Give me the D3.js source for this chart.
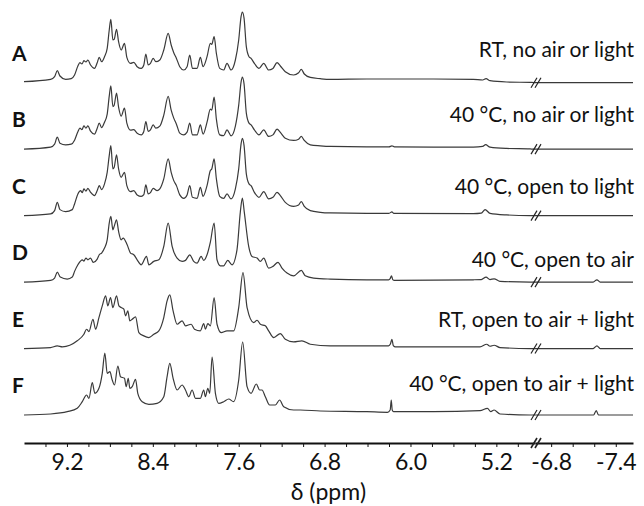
<!DOCTYPE html>
<html>
<head>
<meta charset="utf-8">
<script src="https://cdn.jsdelivr.net/npm/d3@7"></script>
<style>
  body { margin: 0; background: #fff; }
  svg { display: block; }
  text { font-family: Lato, "Open Sans", sans-serif; fill: #111; }
</style>
</head>
<body>
<svg id="chart" width="644" height="506"></svg>
<script>
// Row letters and the sample condition of each 1H NMR spectrum
const rowLabels = ["A", "B", "C", "D", "E", "F"];
const conditions = [
  "RT, no air or light",
  "40 °C, no air or light",
  "40 °C, open to light",
  "40 °C, open to air",
  "RT, open to air + light",
  "40 °C, open to air + light"
];

// Chemical-shift axis (two windows, split by an axis break)
const tickLabelsLeft = [9.2, 8.4, 7.6, 6.8, 6.0, 5.2];
const tickLabelsRight = [-6.8, -7.4];
const ticksLeft = [9.4, 9.2, 9.0, 8.8, 8.6, 8.4, 8.2, 8.0, 7.8, 7.6, 7.4, 7.2, 7.0, 6.8, 6.6, 6.4, 6.2, 6.0, 5.8, 5.6, 5.4, 5.2, 5.0];
const ticksRight = [-6.8, -7.0, -7.2, -7.4];

// Spectra: [δ (ppm), intensity (a.u.)]
const spectrumA = [
  [9.600, 1.0], [9.352, 3.3], [9.315, 6], [9.290, 12], [9.265, 6.7], [9.212, 3.3], [9.160, 4], [9.129, 7.7],
  [9.098, 16.7], [9.079, 20], [9.060, 18.7], [9.042, 22], [9.023, 20.7], [9.005, 22.7], [8.980, 17.7],
  [8.943, 14.3], [8.918, 20], [8.899, 25.3], [8.877, 21], [8.850, 26], [8.825, 34.3], [8.806, 52.7],
  [8.791, 63.3], [8.772, 42.7], [8.760, 43.3], [8.738, 53.3], [8.719, 41], [8.695, 32.7], [8.664, 39.3],
  [8.642, 25.3], [8.608, 19.3], [8.577, 20.3], [8.546, 16], [8.508, 14.3], [8.484, 17.7], [8.465, 28.7],
  [8.443, 17.7], [8.422, 19.3], [8.397, 24.3], [8.372, 21], [8.335, 22.7], [8.298, 32.7], [8.257, 49.3],
  [8.229, 37.7], [8.205, 30], [8.180, 24.3], [8.149, 16], [8.112, 12.7], [8.081, 16], [8.056, 27.7],
  [8.031, 14.3], [7.988, 14.3], [7.957, 25.3], [7.932, 16], [7.895, 26], [7.864, 39.3], [7.851, 38.3],
  [7.829, 46], [7.808, 29.3], [7.777, 14.3], [7.740, 12.7], [7.709, 19.3], [7.671, 12.7], [7.631, 22.7],
  [7.600, 42.7], [7.578, 66], [7.566, 70.7], [7.550, 64.3], [7.529, 36], [7.504, 26], [7.485, 24.3],
  [7.454, 19.3], [7.411, 14.3], [7.367, 19.3], [7.321, 12.7], [7.281, 14.3], [7.243, 20], [7.212, 16.7],
  [7.166, 11], [7.088, 7.7], [7.042, 10], [7.017, 13.3], [6.989, 8.7], [6.933, 5.3], [6.840, 4],
  [6.747, 3.3], [6.406, 3.7], [5.786, 3.7], [5.414, 3.3], [5.327, 2.7], [5.296, 4], [5.259, 2],
  [5.104, 0.7], [4.886, 0.3], [4.850, 0.2],
  [-6.650, 0], [-7.560, 0]
];
const spectrumB = [
  [9.600, 0], [9.352, 2], [9.315, 5], [9.290, 12], [9.265, 6], [9.212, 4.3], [9.160, 5], [9.129, 9],
  [9.098, 17.5], [9.079, 21], [9.060, 19.5], [9.042, 23.3], [9.023, 21], [9.005, 23.3], [8.980, 18],
  [8.943, 15], [8.918, 21], [8.899, 26], [8.877, 21.5], [8.850, 27], [8.825, 35], [8.806, 53],
  [8.791, 63.3], [8.772, 42.6], [8.760, 44], [8.738, 56], [8.719, 42], [8.695, 33], [8.664, 41],
  [8.642, 26], [8.608, 19], [8.577, 19.5], [8.546, 16], [8.508, 14.3], [8.484, 17.7], [8.465, 27.6],
  [8.443, 17.7], [8.422, 19.3], [8.397, 24.3], [8.372, 21], [8.335, 23], [8.298, 34], [8.257, 52.7],
  [8.229, 39], [8.205, 31], [8.180, 25], [8.149, 16], [8.112, 14.3], [8.081, 17], [8.056, 26],
  [8.031, 14.3], [7.988, 14.3], [7.957, 24.3], [7.932, 15], [7.895, 27], [7.864, 40], [7.851, 39],
  [7.829, 52], [7.808, 30], [7.777, 14.3], [7.740, 13.5], [7.709, 19.3], [7.671, 13.3], [7.631, 23],
  [7.600, 44], [7.578, 67], [7.566, 72], [7.550, 65], [7.529, 36], [7.504, 26], [7.485, 24.3],
  [7.454, 19.3], [7.411, 14.3], [7.367, 19.3], [7.321, 12.7], [7.281, 14.3], [7.243, 20], [7.212, 16.7],
  [7.166, 11], [7.088, 8.7], [7.042, 10], [7.017, 12.7], [6.989, 8.7], [6.933, 4.3], [6.840, 3.3],
  [6.747, 2.7], [6.406, 2.3], [6.200, 2.3], [6.173, 3.3], [6.150, 2.3], [5.786, 2], [5.414, 2],
  [5.327, 2.7], [5.300, 4.5], [5.259, 2], [5.104, 0.7], [4.886, 0.2], [4.850, 0],
  [-6.650, 0], [-7.560, 0]
];
const spectrumC = [
  [9.600, 0], [9.352, 1.7], [9.315, 5], [9.290, 13.3], [9.265, 6], [9.212, 4], [9.150, 6], [9.129, 11.7],
  [9.098, 21.7], [9.073, 25], [9.057, 23], [9.042, 26.7], [9.023, 24.5], [9.005, 27.3], [8.980, 23.3],
  [8.943, 20], [8.918, 25], [8.899, 30], [8.877, 26], [8.850, 31.7], [8.825, 43.3], [8.806, 60],
  [8.791, 70], [8.772, 46.7], [8.760, 48.3], [8.738, 60.7], [8.719, 46.7], [8.695, 38.3], [8.664, 43.3],
  [8.642, 30], [8.608, 24], [8.577, 25], [8.546, 20.7], [8.508, 19.3], [8.484, 21], [8.465, 30.7],
  [8.443, 21.7], [8.422, 23], [8.397, 27.3], [8.360, 25], [8.335, 26.7], [8.298, 36.7], [8.257, 56.7],
  [8.229, 43.3], [8.205, 35], [8.180, 30], [8.149, 20.7], [8.112, 17.3], [8.081, 20.7], [8.056, 30],
  [8.031, 18.3], [7.988, 17.3], [7.957, 28.3], [7.932, 19.3], [7.895, 30], [7.864, 45], [7.851, 46.7],
  [7.829, 56.7], [7.808, 36.7], [7.777, 19.3], [7.740, 17.3], [7.709, 21.7], [7.671, 16.7], [7.631, 26.7],
  [7.600, 46.7], [7.578, 71.7], [7.566, 77.3], [7.550, 70], [7.529, 41.7], [7.504, 31.7], [7.485, 30],
  [7.454, 23.3], [7.411, 18.3], [7.367, 24], [7.321, 16.7], [7.281, 18.3], [7.243, 23.3], [7.212, 20],
  [7.166, 13.3], [7.088, 9.3], [7.042, 10.7], [7.017, 14], [6.989, 9.3], [6.933, 5], [6.840, 3.3],
  [6.747, 2.7], [6.406, 2.3], [6.200, 2.3], [6.173, 3.7], [6.155, 2.2], [5.414, 2], [5.340, 2.5],
  [5.305, 6], [5.259, 2.3], [5.104, 0.7], [4.886, 0], [4.850, 0],
  [-6.650, 0], [-7.560, 0]
];
const spectrumD = [
  [9.600, 0], [9.352, 1.7], [9.315, 4], [9.290, 10], [9.262, 5], [9.197, 3], [9.150, 5], [9.129, 10.7],
  [9.098, 17.3], [9.057, 22.3], [9.042, 21], [9.023, 24], [9.005, 22.3], [8.980, 24], [8.955, 19.7],
  [8.918, 23], [8.899, 27.3], [8.877, 29], [8.850, 34], [8.825, 42.3], [8.806, 59], [8.791, 65.7],
  [8.772, 52.3], [8.760, 55.7], [8.738, 62.3], [8.719, 50.7], [8.695, 42.3], [8.676, 44], [8.639, 37.3],
  [8.608, 29], [8.577, 27.3], [8.546, 22.3], [8.508, 17.3], [8.459, 25.7], [8.437, 17.3], [8.391, 20.7],
  [8.344, 22.3], [8.298, 35.7], [8.257, 59], [8.220, 35.7], [8.174, 24], [8.127, 20.7], [8.096, 21.7],
  [8.056, 27.3], [8.019, 20.7], [7.988, 19], [7.950, 25.7], [7.926, 21.7], [7.895, 27.3], [7.864, 40],
  [7.829, 59], [7.802, 22.3], [7.771, 16.3], [7.740, 16.3], [7.702, 21.7], [7.662, 17.3], [7.616, 32.3],
  [7.585, 70], [7.566, 84], [7.548, 70], [7.507, 35.7], [7.476, 25.7], [7.429, 24], [7.398, 20.7],
  [7.367, 24], [7.321, 14], [7.281, 15.7], [7.234, 19.7], [7.197, 14], [7.150, 9], [7.088, 6.3],
  [7.017, 11.7], [6.980, 6.3], [6.902, 4], [6.747, 3], [6.406, 2.3], [6.204, 2.3], [6.189, 3.5],
  [6.177, 6.3], [6.165, 2.5], [6.150, 1.7], [5.414, 2.3], [5.340, 2.5], [5.296, 5], [5.259, 2.5],
  [5.221, 3.3], [5.166, 0.7], [4.886, 0], [4.850, 0],
  [-6.650, 0], [-7.190, 0], [-7.225, 2.3], [-7.255, 0], [-7.560, 0]
];
const spectrumE = [
  [9.600, 0], [9.352, 1], [9.290, 2.7], [9.243, 1.7], [9.104, 7.7], [9.042, 14.3], [9.017, 19.3],
  [8.995, 17], [8.958, 29.3], [8.933, 19.3], [8.902, 31], [8.871, 42.7], [8.840, 52.7], [8.819, 42.7],
  [8.794, 51], [8.772, 41], [8.738, 52.7], [8.716, 42.7], [8.695, 41], [8.670, 39.3], [8.654, 32.7],
  [8.633, 37.7], [8.614, 27.7], [8.592, 29.3], [8.561, 31.7], [8.530, 16], [8.484, 12.7], [8.437, 11],
  [8.391, 14.3], [8.344, 17.7], [8.298, 31], [8.267, 47.7], [8.242, 53.7], [8.211, 37.7], [8.174, 24.3],
  [8.127, 27.7], [8.096, 22.7], [8.043, 24.3], [8.012, 19.3], [7.957, 17.7], [7.926, 25], [7.910, 19.3],
  [7.888, 25], [7.864, 22.7], [7.829, 51], [7.802, 24.3], [7.764, 16], [7.709, 17.7], [7.647, 17.7],
  [7.600, 41], [7.560, 76], [7.522, 41], [7.460, 26], [7.429, 28.3], [7.398, 24.3], [7.352, 22.7],
  [7.321, 17.7], [7.274, 11], [7.212, 15], [7.166, 9.3], [7.088, 6.7], [7.011, 7.7], [6.933, 4.3],
  [6.747, 2.7], [6.406, 2.7], [6.204, 2.7], [6.187, 4.5], [6.173, 9.3], [6.160, 3], [6.140, 1.7],
  [5.352, 1.7], [5.290, 4.3], [5.259, 2.3], [5.221, 3.3], [5.166, 1], [4.886, 0], [4.850, 0],
  [-6.650, 0], [-7.190, 0], [-7.225, 2.7], [-7.255, 0], [-7.560, 0]
];
const spectrumF = [
  [9.600, 0], [9.352, 1], [9.197, 3.3], [9.104, 6.7], [9.057, 13.3], [9.017, 20], [8.995, 16.7],
  [8.964, 32.3], [8.940, 21.7], [8.902, 26.7], [8.871, 41.7], [8.847, 62], [8.825, 41.7], [8.800, 43.3],
  [8.778, 35], [8.757, 30], [8.726, 49], [8.701, 38.3], [8.664, 36.7], [8.648, 28.3], [8.629, 36.7],
  [8.614, 26.7], [8.592, 28.3], [8.561, 35.7], [8.540, 21.7], [8.499, 13.3], [8.437, 10.7], [8.360, 11.7],
  [8.298, 18.3], [8.267, 38.3], [8.242, 51.7], [8.211, 36.7], [8.174, 25], [8.127, 30], [8.096, 25],
  [8.065, 18.3], [8.034, 25], [8.003, 16.7], [7.957, 16.7], [7.926, 25], [7.910, 18.3], [7.888, 26.7],
  [7.870, 21.7], [7.848, 58], [7.817, 21.7], [7.786, 11.7], [7.740, 13.3], [7.693, 16], [7.647, 13.3],
  [7.600, 35], [7.563, 73], [7.522, 28.3], [7.485, 21.7], [7.436, 31], [7.405, 25], [7.383, 25],
  [7.352, 18.3], [7.312, 10], [7.259, 10], [7.219, 15], [7.181, 8.3], [7.088, 5], [7.026, 5],
  [6.840, 4], [6.406, 3.3], [6.214, 2.7], [6.189, 5], [6.179, 15], [6.170, 5], [6.158, 3.3],
  [5.786, 3.3], [5.352, 4.3], [5.283, 6.7], [5.252, 3.3], [5.221, 5], [5.166, 1], [4.886, 0], [4.850, 0],
  [-6.650, 0], [-7.194, 0], [-7.219, 4.3], [-7.240, 0], [-7.560, 0]
];
const spectra = [spectrumA, spectrumB, spectrumC, spectrumD, spectrumE, spectrumF];

// ---- layout ----
const svg = d3.select("#chart");
const breakX = 535;
const xLeft = d3.scaleLinear().domain([9.6, 4.84]).range([24, breakX]);
const xRight = d3.scaleLinear().domain([-6.65, -7.56]).range([breakX, 633]);
const xOf = d => (d > 0 ? xLeft(d) : xRight(d));
const rowBase = d3.scalePoint().domain(rowLabels).range([82.7, 415]);
const amp = d3.scaleLinear().domain([0, 100]).range([0, 100]);
const axisY = 443;

// condition-label lift above each trace baseline
const conditionLift = [25.7, 27.2, 21.7, 15.2, 21.5, 24];

// a "//" break marker centred on (cx, cy)
function breakMark(g, cx, cy, w) {
  [-2, 2].forEach(off => {
    g.append("line")
      .attr("x1", cx + off - 3).attr("y1", cy + 5)
      .attr("x2", cx + off + 3).attr("y2", cy - 5)
      .attr("stroke", "#222").attr("stroke-width", w);
  });
}

rowLabels.forEach((name, i) => {
  const base = rowBase(name);
  const line = d3.line()
    .x(d => xOf(d[0]))
    .y(d => base - amp(d[1]))
    .curve(d3.curveMonotoneX);

  svg.append("path")
    .datum(spectra[i])
    .attr("d", line)
    .attr("fill", "none")
    .attr("stroke", "#3a3a3a")
    .attr("stroke-width", 1.2)
    .attr("stroke-linejoin", "round");

  breakMark(svg.append("g"), breakX + 1, base, 1.2);

  svg.append("text")
    .attr("x", 12)
    .attr("y", base - 22)
    .attr("font-size", 21)
    .attr("font-weight", 700)
    .text(name);

  svg.append("text")
    .attr("x", 634)
    .attr("y", base - conditionLift[i])
    .attr("text-anchor", "end")
    .attr("font-size", 21)
    .text(conditions[i]);
});

// ---- axes ----
function styleAxis(g) {
  g.select(".domain").attr("stroke", "#111").attr("stroke-width", 2.2);
  g.selectAll(".tick line").attr("stroke", "#111").attr("stroke-width", 1);
  g.selectAll(".tick text")
    .attr("font-family", "Lato, 'Open Sans', sans-serif")
    .attr("font-size", 23)
    .attr("fill", "#111");
}

const axisLeft = d3.axisBottom(xLeft)
  .tickValues(ticksLeft)
  .tickSize(4).tickSizeOuter(0).tickPadding(7)
  .tickFormat(d => (tickLabelsLeft.includes(d) ? d.toFixed(1) : ""));
const axisRight = d3.axisBottom(xRight)
  .tickValues(ticksRight)
  .tickSize(4).tickSizeOuter(0).tickPadding(7)
  .tickFormat(d => (tickLabelsRight.includes(d) ? d.toFixed(1) : ""));

svg.append("g").attr("transform", `translate(0,${axisY})`).call(axisLeft).call(styleAxis);
svg.append("g").attr("transform", `translate(0,${axisY})`).call(axisRight).call(styleAxis);
breakMark(svg.append("g"), breakX + 1, axisY, 1.6);

svg.append("text")
  .attr("x", (xLeft.range()[0] + xRight.range()[1]) / 2)
  .attr("y", 500)
  .attr("text-anchor", "middle")
  .attr("font-size", 23)
  .text("δ (ppm)");
</script>
</body>
</html>
